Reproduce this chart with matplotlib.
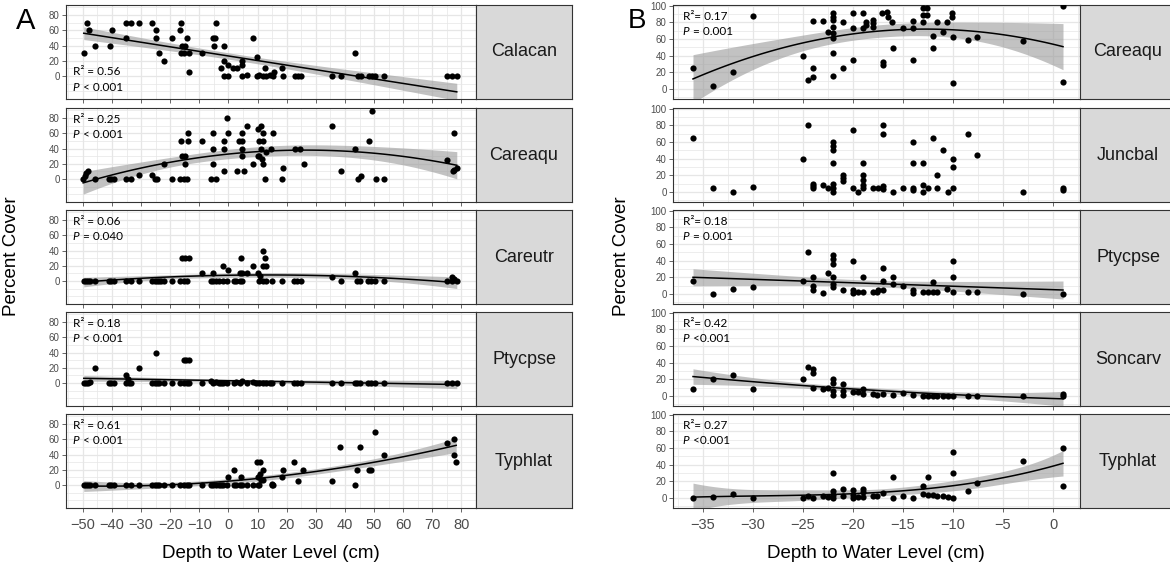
import numpy as np
import matplotlib
matplotlib.use("Agg")
import matplotlib.pyplot as plt
from matplotlib import transforms

plt.rcParams['font.family'] = ['Liberation Sans', 'DejaVu Sans']

# ---------------- panel A data (depth -50..80 cm) ----------------
a_calacan_x = [-49.7, -48.7, -47.8, -45.7, -40.8, -39.9, -35.1, -33.4, -35.1, -30.7,
               -26.1, -25.0, -25.0, -23.9, -22.0, -19.5, -16.3, -16.5, -15.9, -15.1,
               -16.3, -15.4, -14.2, -13.6, -13.6, -9.0, -5.4, -4.8, -5.1, -4.3,
               -1.4, -2.5, -1.5, -0.2, -1.5, -0.3, 1.6, 2.8, 4.5, 4.5,
               4.5, 6.3, 8.4, 9.7, 9.7, 10.6, 11.8, 12.9, 14.3, 15.2,
               12.7, 15.5, 18.4, 18.7, 22.7, 23.9, 25.0, 35.6, 38.7, 43.6,
               44.4, 45.5, 48.1, 49.3, 50.4, 53.5, 75.0, 76.7, 78.4]
a_calacan_y = [30, 70, 60, 40, 40, 60, 70, 70, 50, 70,
               70, 60, 50, 30, 20, 50, 70, 60, 40, 40,
               30, 30, 50, 30, 5, 30, 50, 50, 40, 70,
               40, 10, 20, 15, 0, 0, 10, 10, 20, 15,
               0, 2, 50, 25, 0, 2, 0, 0, 2, 0,
               10, 5, 10, 0, 0, 0, 0, 0, 0, 30,
               0, 0, 0, 0, 0, 0, 0, 0, 0]

a_careaqu_x = [-49.9, -49.3, -48.8, -48.2, -45.7, -41.0, -40.2, -39.4, -35.1, -33.4,
               -30.7, -26.1, -25.3, -24.5, -22.1, -19.5, -16.3, -16.5, -15.4, -14.2,
               -15.9, -15.0, -15.0, -13.9, -13.9, -9.0, -5.4, -6.0, -4.3, -5.2,
               -5.2, -1.5, -1.4, -0.6, -0.3, -1.4, 3.0, 3.6, 4.5, 4.5,
               4.5, 4.5, 5.2, 6.3, 8.4, 10.2, 10.6, 10.2, 11.0, 10.6,
               11.8, 11.2, 11.8, 11.5, 11.8, 12.7, 12.9, 14.7, 15.2, 18.4,
               18.7, 22.7, 24.5, 25.9, 35.6, 38.7, 43.6, 44.4, 45.5, 48.3,
               49.4, 50.6, 53.5, 75.0, 77.3, 77.0, 77.6, 78.4]
a_careaqu_y = [0, 4, 8, 11, 0, 0, 0, 0, 0, 0,
               5, 5, 0, 0, 20, 0, 50, 0, 0, 0,
               30, 30, 20, 60, 50, 50, 60, 0, 0, 40,
               20, 10, 50, 80, 60, 40, 10, 50, 60, 50,
               40, 30, 10, 70, 20, 30, 30, 66, 70, 50,
               50, 39, 60, 26, 20, 0, 35, 40, 60, 0,
               15, 40, 40, 20, 70, 10, 40, 0, 4, 50,
               89, 0, 0, 25, 60, 10, 12, 15]

a_careutr_x = [-49.7, -49.0, -48.2, -47.4, -45.7, -41.0, -40.2, -39.4, -35.1, -33.4,
               -30.7, -26.2, -25.4, -24.6, -23.9, -23.1, -22.3, -19.4, -16.5, -15.3,
               -14.2, -6.0, -5.2, -4.3, -3.4, -1.8, -0.5, 1.8, 2.6, 3.9,
               4.8, 10.5, 11.7, 12.8, 15.1, 18.3, 22.5, 23.7, 24.8, 38.5,
               44.2, 45.3, 48.0, 49.1, 50.2, 53.3, 75.0, 76.7, 78.4,
               -15.9, -14.8, -13.6, -9.1, -5.2, -1.8, -0.3, 4.3, 3.9, 4.8,
               6.2, 8.3, 10.0, 10.8, 11.7, 11.7, 12.8, 12.7, 35.4, 43.4,
               76.7, 77.6]
a_careutr_y = [0, 0, 0, 0, 0, 0, 0, 0, 0, 0,
               0, 0, 0, 0, 0, 0, 0, 0, 0, 0,
               0, 0, 0, 0, 0, 0, 0, 0, 0, 0,
               0, 0, 0, 0, 0, 0, 0, 0, 0, 0,
               0, 0, 0, 0, 0, 0, 0, 0, 0,
               30, 30, 30, 10, 10, 20, 15, 30, 10, 10,
               10, 20, 10, 7, 40, 20, 20, 30, 5, 10,
               5, 3]

a_ptycpse_x = [-49.7, -49.0, -48.2, -47.6, -45.7, -41.0, -40.2, -39.4, -35.1, -35.1,
               -34.0, -33.4, -34.6, -30.7, -25.0, -26.2, -25.4, -24.6, -23.9, -22.3,
               -19.4, -15.3, -14.5, -13.6, -16.5, -15.3, -14.2, -13.4, -9.1, -6.0,
               -5.2, -4.3, -3.4, -2.6, -1.8, -0.5, 1.8, 2.6, 3.9, 4.8,
               6.2, 8.3, 9.6, 10.5, 11.7, 12.8, 14.2, 15.1, 18.3, 22.5,
               23.7, 24.8, 35.4, 38.5, 43.4, 44.2, 45.3, 48.0, 49.1, 50.2,
               53.3, 75.0, 76.7, 78.4]
a_ptycpse_y = [0, 0, 0, 2, 20, 0, 0, 0, 10, 0,
               0, 0, 5, 20, 40, 0, 0, 0, 0, 0,
               0, 30, 30, 30, 0, 0, 0, 0, 0, 3,
               0, 2, 0, 0, 0, 0, 0, 2, 0, 3,
               0, 2, 0, 0, 0, 0, 0, 0, 0, 0,
               0, 0, 0, 0, 0, 0, 0, 0, 0, 0,
               0, 0, 0, 0]

a_typhlat_x = [-49.7, -49.0, -48.2, -47.4, -45.7, -41.0, -40.2, -39.4, -35.1, -33.4,
               -30.7, -26.2, -25.4, -24.6, -23.9, -22.3, -19.4, -16.5, -15.3, -14.2,
               -13.6, -9.1, -6.0, -5.2, -4.3, -3.4, -2.6, -1.8, -0.5, 1.8,
               2.6, 3.9, 4.8, 6.2, 8.3, 10.0, 10.5, 15.1,
               -0.3, 1.8, 4.3, 9.8, 10.8, 10.8, 11.7, 10.3, 11.1, 12.0,
               14.9, 15.4, 18.3, 18.6, 22.5, 24.0, 25.6, 35.4, 38.3, 43.4,
               44.2, 45.3, 48.2, 49.1, 50.2, 53.3, 75.0, 77.3, 77.3, 78.2]
a_typhlat_y = [0, 0, 0, 0, 0, 0, 0, 0, 0, 0,
               0, 0, 0, 0, 0, 0, 0, 0, 0, 0,
               0, 0, 0, 0, 0, 0, 0, 0, 0, 0,
               0, 0, 0, 0, 0, 0, 0, 0,
               10, 20, 10, 30, 30, 15, 20, 10, 7, 7,
               2, 0, 10, 20, 30, 5, 20, 5, 50, 0,
               20, 50, 20, 20, 70, 40, 55, 60, 40, 30]

# ---------------- panel B data (depth -36..1 cm) ----------------
b_careaqu_x = [-36, -34, -32, -30, -25, -24.5, -24, -24, -24, -23,
               -22.5, -22, -22, -22, -22, -22, -22, -22, -22, -21,
               -21, -20, -20, -20, -19, -19, -18.7, -18.7, -18, -18,
               -18, -17.1, -16.6, -16.5, -16.1, -17, -17, -16, -15, -14,
               -14, -14, -13, -12.6, -13, -12.6, -13, -12, -11.6, -10.6,
               -12, -11, -10.1, -10.1, -10, -10, -8.5, -7.6, -3, 1,
               1]
b_careaqu_y = [25, 4, 21, 88, 40, 11, 15, 25, 82, 82,
               68, 91, 87, 83, 75, 67, 61, 43, 16, 81,
               25, 91, 73, 35, 91, 73, 77, 81, 83, 79,
               75, 91, 93, 87, 81, 33, 29, 49, 73, 82,
               73, 35, 97, 97, 89, 89, 81, 49, 81, 81,
               64, 68, 91, 87, 63, 7, 59, 63, 58, 100,
               8]

b_juncbal_x = [-36, -34, -32, -30, -25, -24.5, -24, -24, -24, -23,
               -22.5, -22, -22, -22, -22, -22, -22, -22, -21, -21,
               -21, -20, -20, -19.5, -19, -19, -19, -19, -19, -18,
               -17.5, -17, -17, -17, -17, -16, -15, -14, -14, -14,
               -14, -13, -13, -13, -12.5, -12, -11.6, -11.6, -11, -10.5,
               -10, -10, -10, -8.5, -7.6, -3, 1, 1]
b_juncbal_y = [65, 5, 0, 6, 40, 80, 10, 5, 7, 8,
               5, 5, 0, 10, 60, 55, 50, 35, 20, 17,
               13, 75, 5, 0, 35, 20, 15, 8, 5, 5,
               5, 7, 4, 80, 70, 0, 5, 60, 35, 5,
               2, 35, 8, 0, 5, 65, 20, 5, 50, 0,
               40, 30, 5, 70, 45, 0, 5, 2]

b_ptycpse_x = [-36, -34, -32, -30, -25, -24.5, -24, -24, -24, -23,
               -22.5, -22, -22, -22, -22, -22, -22, -21, -20, -20,
               -20, -19.5, -19, -19, -18, -17.6, -17.5, -17, -17, -17,
               -16, -16, -15, -14, -14, -13, -12.5, -12, -11.6, -12,
               -10.6, -10, -10, -10, -8.5, -7.6, -3, 1]
b_ptycpse_y = [16, 0, 6, 8, 16, 50, 20, 10, 5, 1,
               25, 47, 42, 36, 20, 12, 8, 5, 40, 5,
               1, 3, 3, 20, 3, 3, 5, 31, 16, 5,
               20, 12, 10, 5, 1, 3, 3, 3, 3, 15,
               6, 40, 20, 3, 2, 2, 0, 0]

b_soncarv_x = [-36, -34, -32, -30, -25, -24.5, -24, -24, -24, -23,
               -22.5, -22, -22, -22, -22, -21, -21, -21, -20, -19.5,
               -19, -19, -18, -17.6, -17, -16, -15, -14, -13, -12.5,
               -12, -11.6, -11, -10.5, -10, -8.5, -7.6, -3, 1, 1]
b_soncarv_y = [8, 20, 25, 8, 20, 35, 33, 28, 10, 8,
               10, 21, 16, 6, 1, 15, 6, 1, 5, 5,
               8, 3, 3, 1, 3, 1, 4, 1, 0, 0,
               0, 0, 0, 0, 0, 0, 0, 0, 0, 3]

b_typhlat_x = [-36, -34, -32, -30, -25, -24.5, -24, -23, -22.5, -22,
               -22, -22, -22, -21, -21, -20, -20, -20, -19.5, -19,
               -19, -19, -18, -17.6, -17, -16, -16, -15, -14, -13,
               -13, -12.5, -12.5, -12, -11.6, -11, -10.5, -10, -10, -10,
               -8.5, -7.6, -3, 1, 1]
b_typhlat_y = [0, 1, 5, 0, 0, 3, 0, 3, 1, 30,
               8, 4, 0, 11, 3, 10, 4, 0, 1, 11,
               7, 1, 2, 3, 6, 25, 0, 3, 0, 15,
               5, 4, 25, 4, 3, 3, 1, 55, 30, 0,
               9, 18, 45, 60, 15]

species_a = ["Calacan", "Careaqu", "Careutr", "Ptycpse", "Typhlat"]
species_b = ["Careaqu", "Juncbal", "Ptycpse", "Soncarv", "Typhlat"]
r2_a = ["R² = 0.56", "R² = 0.25", "R² = 0.06", "R² = 0.18", "R² = 0.61"]
p_a = [" < 0.001", " < 0.001", " = 0.040", " < 0.001", " < 0.001"]
r2_b = ["R²= 0.17", None, "R²= 0.18", "R²= 0.42", "R²= 0.27"]
p_b = [" = 0.001", None, " = 0.001", " <0.001", " <0.001"]
deg_a = [1, 2, 2, 1, 2]
deg_b = [2, None, 1, 2, 3]

data_a = [(a_calacan_x, a_calacan_y), (a_careaqu_x, a_careaqu_y), (a_careutr_x, a_careutr_y),
          (a_ptycpse_x, a_ptycpse_y), (a_typhlat_x, a_typhlat_y)]
data_b = [(b_careaqu_x, b_careaqu_y), (b_juncbal_x, b_juncbal_y), (b_ptycpse_x, b_ptycpse_y),
          (b_soncarv_x, b_soncarv_y), (b_typhlat_x, b_typhlat_y)]


def smooth(x, y, deg):
    # lm fit with 95% confidence band, like geom_smooth(method="lm")
    x = np.asarray(x, float)
    y = np.asarray(y, float)
    X = np.vander(x, deg + 1)
    beta = np.linalg.lstsq(X, y, rcond=None)[0]
    res = y - X @ beta
    s2 = res @ res / (len(x) - deg - 1)
    cov = s2 * np.linalg.inv(X.T @ X)
    xg = np.linspace(x.min(), x.max(), 100)
    G = np.vander(xg, deg + 1)
    f = G @ beta
    se = np.sqrt(np.einsum('ij,jk,ik->i', G, cov, G))
    return xg, f, f - 1.99 * se, f + 1.99 * se


fig = plt.figure(figsize=(11.7, 5.71), dpi=100)
W, H = 1170, 571


def px_axes(x0, y0, w, h):
    return fig.add_axes([x0 / W, 1 - (y0 + h) / H, w / W, h / H])


row_top = [5, 108, 210, 312, 414]
row_h = 94
grid_c = '#E6E6E6'
border_c = '#333333'
tick_c = '#4D4D4D'


def facet(ax_left, ax_w, strip_left, data, names, r2s, ps, degs, xlim, ylim,
          xmaj, xmin, ymaj, ymin, txt_x, first_bottom):
    for i in range(5):
        ax = px_axes(ax_left, row_top[i], ax_w, row_h)
        x, y = data[i]
        ax.set_xlim(*xlim)
        ax.set_ylim(*ylim)
        ax.set_xticks(xmaj)
        ax.set_xticks(xmin, minor=True)
        ax.set_yticks(ymaj)
        ax.set_yticks(ymin, minor=True)
        ax.grid(True, which='major', color=grid_c, lw=0.9)
        ax.grid(True, which='minor', color=grid_c, lw=0.5)
        ax.set_axisbelow(True)
        ax.tick_params(which='minor', length=0)
        ax.tick_params(which='major', length=3, width=0.6, color=tick_c,
                       labelcolor=tick_c, labelsize=7, pad=1.5)
        for s in ax.spines.values():
            s.set_color(border_c)
            s.set_linewidth(0.8)
        if degs[i] is not None:
            xg, f, lo, hi = smooth(x, y, degs[i])
            ax.fill_between(xg, lo, hi, color='#9A9A9A', alpha=0.6, lw=0, zorder=2)
            ax.plot(xg, f, color='black', lw=1.1, zorder=3)
        ax.scatter(x, y, s=20, color='black', lw=0, zorder=4)
        if i < 4:
            ax.tick_params(axis='x', labelbottom=False)
        else:
            ax.tick_params(axis='x', labelsize=10.5, pad=4)
        if r2s[i] is not None:
            if i == 0 and first_bottom:
                fy1, fy2 = 0.29, 0.12
            else:
                fy1, fy2 = 0.88, 0.72
            ax.text(txt_x, fy1, r2s[i], transform=ax.transAxes, family='Lato',
                    fontsize=8.5, va='center', ha='left')
            ax.text(txt_x, fy2, "P", transform=ax.transAxes, family='Lato',
                    style='italic', fontsize=8.5, va='center', ha='left')
            tr = transforms.offset_copy(ax.transAxes, fig=fig, x=5.0, y=0, units='points')
            ax.text(txt_x, fy2, ps[i], transform=tr, family='Lato',
                    fontsize=8.5, va='center', ha='left')
        st = px_axes(strip_left, row_top[i], 96, row_h)
        st.set_facecolor('#D9D9D9')
        st.set_xticks([])
        st.set_yticks([])
        for s in st.spines.values():
            s.set_color(border_c)
            s.set_linewidth(0.8)
        st.text(0.5, 0.5, names[i], transform=st.transAxes, ha='center', va='center',
                fontsize=13, color='#1A1A1A')


facet(66, 410, 476, data_a, species_a, r2_a, p_a, deg_a, (-55.8, 84.4), (-30, 93),
      np.arange(-50, 81, 10), np.arange(-55, 86, 5), np.arange(0, 81, 20),
      np.arange(-30, 95, 10), 0.016, True)
facet(673, 407, 1080, data_b, species_b, r2_b, p_b, deg_b, (-38.0, 2.7), (-12, 101),
      np.arange(-35, 1, 5), np.arange(-37.5, 3, 2.5), np.arange(0, 101, 20),
      np.arange(-10, 101, 10), 0.024, False)

fig.text(26 / W, 1 - 21 / H, "A", fontsize=21, ha='center', va='center')
fig.text(637 / W, 1 - 21 / H, "B", fontsize=20, ha='center', va='center')
fig.text(12 / W, 1 - 256 / H, "Percent Cover", rotation=90, fontsize=13.5,
         ha='center', va='center')
fig.text(621 / W, 1 - 256 / H, "Percent Cover", rotation=90, fontsize=13.5,
         ha='center', va='center')
fig.text(271 / W, 1 - 553 / H, "Depth to Water Level (cm)", fontsize=13.5,
         ha='center', va='center')
fig.text(876 / W, 1 - 553 / H, "Depth to Water Level (cm)", fontsize=13.5,
         ha='center', va='center')

fig.savefig("out.png", dpi=100)
